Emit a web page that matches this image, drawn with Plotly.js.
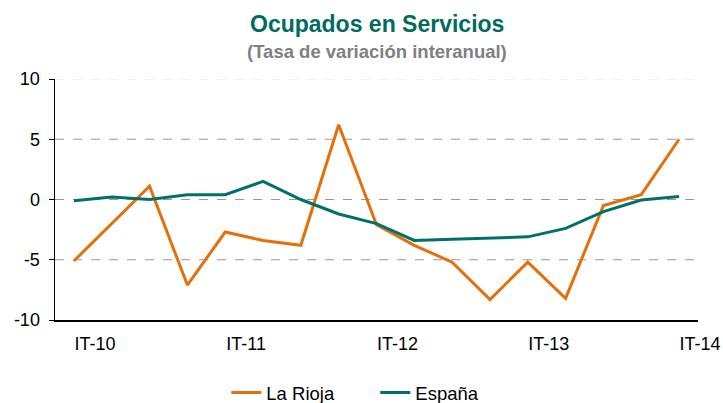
<!DOCTYPE html>
<html>
<head>
<meta charset="utf-8">
<script src="https://cdn.plot.ly/plotly-3.0.1.min.js"></script>
<style>html,body{margin:0;padding:0;background:#fff;}#chart{width:723px;height:403px;}</style>
</head>
<body>
<div id="chart"></div>
<script>
const quarters = ["IT-10","IIT-10","IIIT-10","IVT-10","IT-11","IIT-11","IIIT-11","IVT-11","IT-12","IIT-12","IIIT-12","IVT-12","IT-13","IIT-13","IIIT-13","IVT-13","IT-14"];
const tickLabels = ["IT-10","IT-11","IT-12","IT-13","IT-14"];
const yTickVals = [-10, -5, 0, 5, 10];
const yTickText = ["-10", "-5", "0", "5", "10"];
const laRioja = [-5.1, -2.0, 1.1, -7.1, -2.7, -3.4, -3.8, 6.2, -2.1, -3.8, -5.2, -8.3, -5.2, -8.2, -0.5, 0.4, 5.0];
const espana  = [-0.1, 0.2, 0.0, 0.4, 0.4, 1.5, 0.0, -1.2, -2.0, -3.4, -3.3, -3.2, -3.1, -2.4, -1.0, -0.05, 0.25];

const font = "Liberation Sans, Arial, Helvetica, sans-serif";
const traces = [
  {x: quarters, y: laRioja, name: "La Rioja", type: "scatter", mode: "lines",
   line: {color: "#E4700C", width: 3}},
  {x: quarters, y: espana, name: "España", type: "scatter", mode: "lines",
   line: {color: "#00716A", width: 3}}
];
const layout = {
  width: 723, height: 403,
  margin: {l: 55, r: 25, t: 79, b: 83, autoexpand: false},
  paper_bgcolor: "#fff", plot_bgcolor: "#fff",
  font: {family: font, size: 18, color: "#000"},
  annotations: [
    {text: "<b>Ocupados en Servicios</b>", xref: "paper", x: 0.5, xanchor: "center",
     yref: "paper", y: 1, yshift: 55, yanchor: "middle", showarrow: false,
     font: {family: font, size: 23, color: "#006B5E"}},
    {text: "<b>(Tasa de variación interanual)</b>", xref: "paper", x: 0.5, xanchor: "center",
     yref: "paper", y: 1, yshift: 28, yanchor: "middle", showarrow: false,
     font: {family: font, size: 18.5, color: "#808080"}}
  ],
  xaxis: {
    type: "category",
    categoryarray: quarters,
    range: [-0.5, 16.5],
    tickmode: "array",
    tickvals: tickLabels,
    ticktext: tickLabels,
    ticks: "", ticklabelshift: 21, ticklabelstandoff: 7,
    showline: true, linecolor: "#000", linewidth: 1.5,
    showgrid: false, zeroline: false,
    tickfont: {family: font, size: 18, color: "#000"}
  },
  yaxis: {
    range: [-10, 10],
    tickmode: "array",
    tickvals: yTickVals,
    ticktext: yTickText,
    ticks: "outside", ticklen: 5, tickcolor: "#000",
    showline: true, linecolor: "#000", linewidth: 1.5,
    showgrid: false, zeroline: false,
    ticklabelstandoff: 5,
    tickfont: {family: font, size: 18, color: "#000"}
  },
  shapes: [
    {type: "line", xref: "paper", x0: 0, x1: 1, yref: "y", y0: 5, y1: 5, layer: "below", line: {color: "#999", width: 1.2, dash: "dash"}},
    {type: "line", xref: "paper", x0: 0, x1: 1, yref: "y", y0: 0, y1: 0, layer: "below", line: {color: "#999", width: 1.2, dash: "dash"}},
    {type: "line", xref: "paper", x0: 0, x1: 1, yref: "y", y0: -5, y1: -5, layer: "below", line: {color: "#999", width: 1.2, dash: "dash"}},
    {type: "line", xref: "paper", x0: 0, x1: 1, yref: "y", y0: 10, y1: 10, layer: "below", line: {color: "#e2e2e2", width: 1.2, dash: "dash"}}
  ],
  showlegend: true,
  legend: {
    orientation: "h", xref: "container", x: 0.313, xanchor: "left",
    yref: "paper", y: -0.303, yanchor: "middle",
    font: {family: font, size: 18.5, color: "#000"},
    itemwidth: 30, entrywidth: 104, entrywidthmode: "pixels",
    tracegroupgap: 0, traceorder: "normal"
  }
};
Plotly.newPlot("chart", traces, layout, {displayModeBar: false, staticPlot: true});
</script>
</body>
</html>
